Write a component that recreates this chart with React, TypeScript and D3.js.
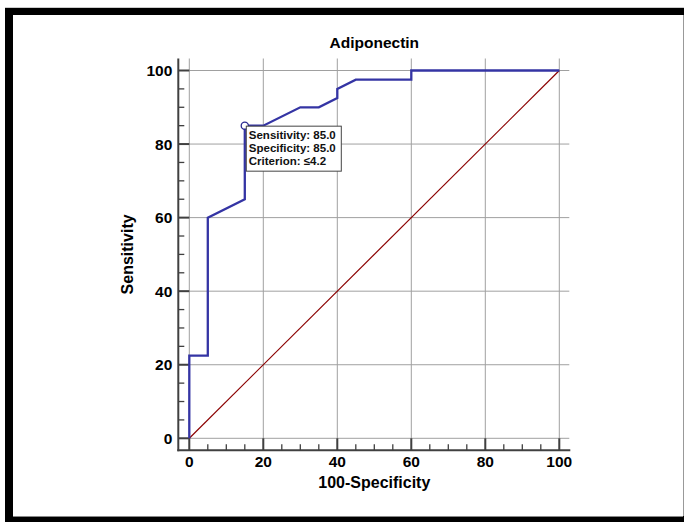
import React, { useEffect, useRef } from "react";
import * as d3 from "d3";

// ROC curve points: 100-Specificity (x) and Sensitivity (y)
const fpr = [0, 0, 5, 5, 15, 15, 20, 30, 35, 40, 40, 45, 60, 60, 100];
const tpr = [0, 22.5, 22.5, 60, 65, 85, 85, 90, 90, 92.5, 95, 97.5, 97.5, 100, 100];
const majorTicks = [0, 20, 40, 60, 80, 100];
const minorTicks = d3.range(0, 101, 5);
const cutoff = { fpr: 15, sens: 85.0, spec: 85.0, crit: "≤4.2" };

const font = "'Liberation Sans', Arial, sans-serif";

export default function App() {
  const ref = useRef<SVGSVGElement>(null);

  useEffect(() => {
    const svg = d3.select(ref.current);
    svg.selectAll("*").remove();

    // frame
    svg.append("rect").attr("x", 0).attr("y", 0).attr("width", 684).attr("height", 522).attr("fill", "#fff");
    svg.append("rect").attr("x", 5).attr("y", 8).attr("width", 679).attr("height", 514).attr("fill", "#000");
    svg.append("rect").attr("x", 13).attr("y", 15).attr("width", 670).attr("height", 501).attr("fill", "#fff");
    svg.append("line").attr("x1", 5).attr("x2", 684).attr("y1", 7.5).attr("y2", 7.5).attr("stroke", "#ccc");
    svg.append("line").attr("x1", 683.5).attr("x2", 683.5).attr("y1", 15).attr("y2", 516).attr("stroke", "#999");
    svg.append("line").attr("x1", 13).attr("x2", 683).attr("y1", 516.5).attr("y2", 516.5).attr("stroke", "#888");

    const x = d3.scaleLinear().domain([0, 100]).range([189.3, 559.3]);
    const y = d3.scaleLinear().domain([0, 100]).range([438.3, 70.5]);

    const left = x(0) - 11;
    const right = x(100) + 10;
    const top = y(100) - 12;
    const bottom = y(0) + 12;

    const g = svg.append("g");

    // grid
    g.selectAll(".vgrid").data(majorTicks).enter().append("line")
      .attr("x1", d => x(d)).attr("x2", d => x(d))
      .attr("y1", top).attr("y2", bottom)
      .attr("stroke", "#a0a0a0").attr("stroke-width", 1);
    g.selectAll(".hgrid").data(majorTicks).enter().append("line")
      .attr("y1", d => y(d)).attr("y2", d => y(d))
      .attr("x1", left).attr("x2", right)
      .attr("stroke", "#a0a0a0").attr("stroke-width", 1);

    // axes lines
    const axisColor = "#404040";
    g.append("line").attr("x1", left).attr("x2", left).attr("y1", top).attr("y2", bottom + 1)
      .attr("stroke", axisColor).attr("stroke-width", 2);
    g.append("line").attr("x1", left - 1).attr("x2", right + 1).attr("y1", bottom).attr("y2", bottom)
      .attr("stroke", axisColor).attr("stroke-width", 2);

    // ticks
    g.selectAll(".ytick").data(minorTicks).enter().append("line")
      .attr("x1", left).attr("x2", d => (d % 20 === 0 ? x(0) : left + 6))
      .attr("y1", d => y(d)).attr("y2", d => y(d))
      .attr("stroke", axisColor).attr("stroke-width", d => (d % 20 === 0 ? 2 : 1.3));
    g.selectAll(".xtick").data(minorTicks).enter().append("line")
      .attr("y1", bottom).attr("y2", d => (d % 20 === 0 ? y(0) : bottom - 6))
      .attr("x1", d => x(d)).attr("x2", d => x(d))
      .attr("stroke", axisColor).attr("stroke-width", d => (d % 20 === 0 ? 2 : 1.3));

    // tick labels
    g.selectAll(".ylab").data(majorTicks).enter().append("text")
      .attr("x", left - 6).attr("y", d => y(d)).attr("dy", "0.36em")
      .attr("text-anchor", "end").attr("font-family", font).attr("font-weight", "bold")
      .attr("font-size", 15.5).attr("fill", "#000").text(d => d);
    g.selectAll(".xlab").data(majorTicks).enter().append("text")
      .attr("x", d => x(d)).attr("y", bottom + 17)
      .attr("text-anchor", "middle").attr("font-family", font).attr("font-weight", "bold")
      .attr("font-size", 15.5).attr("fill", "#000").text(d => d);

    // titles
    svg.append("text").attr("x", (x(0) + x(100)) / 2).attr("y", 48)
      .attr("text-anchor", "middle").attr("font-family", font).attr("font-weight", "bold")
      .attr("font-size", 15.5).text("Adiponectin");
    svg.append("text").attr("x", (x(0) + x(100)) / 2).attr("y", 488)
      .attr("text-anchor", "middle").attr("font-family", font).attr("font-weight", "bold")
      .attr("font-size", 16).text("100-Specificity");
    svg.append("text").attr("transform", `translate(133, ${(y(0) + y(100)) / 2}) rotate(-90)`)
      .attr("text-anchor", "middle").attr("font-family", font).attr("font-weight", "bold")
      .attr("font-size", 16).text("Sensitivity");

    // diagonal reference line
    g.append("line").attr("x1", x(0)).attr("y1", y(0)).attr("x2", x(100)).attr("y2", y(100))
      .attr("stroke", "#8b0000").attr("stroke-width", 1.2);

    // ROC curve
    const pts: [number, number][] = fpr.map((v, i) => [v, tpr[i]]);
    const line = d3.line<[number, number]>().x(d => x(d[0])).y(d => y(d[1]));
    g.append("path").attr("d", line(pts)).attr("fill", "none")
      .attr("stroke", "#3434a4").attr("stroke-width", 2.3).attr("stroke-linejoin", "miter");

    // criterion marker
    const px = x(cutoff.fpr);
    const py = y(cutoff.sens);
    g.append("circle").attr("cx", px).attr("cy", py).attr("r", 3.6)
      .attr("fill", "#fff").attr("stroke", "#2a2a90").attr("stroke-width", 1.3);

    const box = g.append("g").attr("transform", `translate(${px + 1.5}, ${py + 0.5})`);
    box.append("rect").attr("x", 0).attr("y", 0).attr("width", 95).attr("height", 45)
      .attr("fill", "#fff").attr("stroke", "#444").attr("stroke-width", 1);
    const lines = [
      `Sensitivity: ${cutoff.sens.toFixed(1)}`,
      `Specificity: ${cutoff.spec.toFixed(1)}`,
      `Criterion: ${cutoff.crit}`,
    ];
    box.selectAll("text").data(lines).enter().append("text")
      .attr("x", 2.5).attr("y", (d, i) => 13 + i * 13)
      .attr("font-family", font).attr("font-weight", "bold").attr("font-size", 11.5)
      .attr("fill", "#111").text(d => d);
  }, []);

  return (
    <svg ref={ref} width={684} height={522}
      style={{ position: "absolute", left: 0, top: 0, display: "block" }} />
  );
}
